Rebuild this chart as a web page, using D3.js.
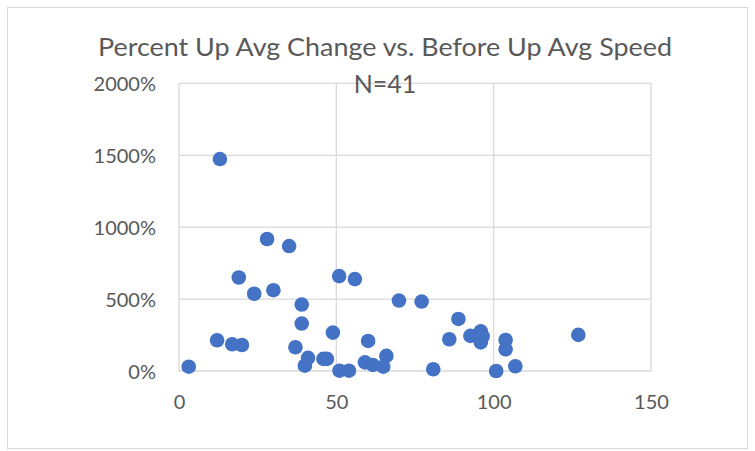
<!DOCTYPE html>
<html>
<head>
<meta charset="utf-8">
<script src="https://cdn.jsdelivr.net/npm/d3@7"></script>
<style>
  body { margin: 0; background: #fff; }
  text { font-family: Lato, "Open Sans", sans-serif; fill: #595959; }
</style>
</head>
<body>
<div id="chart"></div>
<script>
// Chart data
//=====================================================================
var beforeSpeed = [13.0, 28.0, 35.0, 19.0, 23.9, 30.0, 39.0, 39.0, 48.9, 50.9,
    55.9, 12.1, 16.9, 20.0, 3.1, 37.0, 41.0, 40.0, 45.9, 47.0,
    51.0, 54.0, 69.9, 77.1, 88.8, 60.1, 85.9, 92.6, 95.9, 95.9,
    59.1, 61.6, 65.9, 64.9, 80.8, 100.8, 103.8, 103.8, 106.9, 126.9, 96.5];
var percentChange = [1474, 918, 869, 650, 537, 562, 462, 330, 267, 660,
    639, 214, 186, 181, 30, 165, 91, 37, 84, 84,
    2, 2, 490, 483, 362, 209, 221, 244, 276, 199,
    60, 42, 105, 30, 12, 0, 216, 151, 33, 251, 240];
var xTicks = [0, 50, 100, 150];
var yTicks = [0, 500, 1000, 1500, 2000];
var title = "Percent Up Avg Change vs. Before Up Avg Speed";
var subtitle = "N=41";

var points = beforeSpeed.map(function (d, i) {
    return { x: d, y: percentChange[i] };
});

// Set up chart size
//=====================================================================
var svgWidth = 755;
var svgHeight = 451;

var margin = { top: 83.4, right: 104, bottom: 80, left: 179 };
var width = 651 - margin.left;
var height = 371 - margin.top;

var svg = d3.select("#chart")
    .append("svg")
    .attr("width", svgWidth)
    .attr("height", svgHeight);

// chart frame
svg.append("rect")
    .attr("x", 7.5)
    .attr("y", 7.5)
    .attr("width", 740)
    .attr("height", 441)
    .attr("fill", "#fff")
    .attr("stroke", "#d9d9d9")
    .attr("stroke-width", 1);

var chartGroup = svg.append("g")
    .attr("transform", `translate(${margin.left}, ${margin.top})`);

// Scales
// ==============================
var xScale = d3.scaleLinear().domain([0, 150]).range([0, width]);
var yScale = d3.scaleLinear().domain([0, 2000]).range([height, 0]);

// Gridlines
// ==============================
chartGroup.append("g")
    .selectAll("line")
    .data(yTicks)
    .enter()
    .append("line")
    .attr("x1", 0)
    .attr("x2", width)
    .attr("y1", d => yScale(d))
    .attr("y2", d => yScale(d))
    .attr("stroke", "#d9d9d9")
    .attr("stroke-width", 1.3);

chartGroup.append("g")
    .selectAll("line")
    .data(xTicks)
    .enter()
    .append("line")
    .attr("x1", d => xScale(d))
    .attr("x2", d => xScale(d))
    .attr("y1", 0)
    .attr("y2", height)
    .attr("stroke", "#d9d9d9")
    .attr("stroke-width", 1.3);

// Axes (labels only, lines drawn as grid)
// ==============================
var bottomAxis = d3.axisBottom(xScale).tickValues(xTicks).tickSize(0).tickPadding(24);
var leftAxis = d3.axisLeft(yScale).tickValues(yTicks).tickSize(0).tickPadding(23)
    .tickFormat(d => d + "%");

var xAxisG = chartGroup.append("g")
    .attr("transform", `translate(0, ${height})`)
    .call(bottomAxis);
var yAxisG = chartGroup.append("g")
    .call(leftAxis);

[xAxisG, yAxisG].forEach(function (g) {
    g.select(".domain").remove();
    g.selectAll("text")
        .attr("fill", "#595959")
        .style("font-family", "Lato, 'Open Sans', sans-serif")
        .style("font-size", "20px");
});
yAxisG.selectAll("text").attr("dy", "0.35em");

// Points
// ==============================
chartGroup.selectAll("circle")
    .data(points)
    .enter()
    .append("circle")
    .attr("cx", d => xScale(d.x))
    .attr("cy", d => yScale(d.y))
    .attr("r", 7.3)
    .attr("fill", "#4472c4");

// Title
// ==============================
svg.append("text")
    .attr("x", 385)
    .attr("y", 56)
    .attr("text-anchor", "middle")
    .attr("textLength", 574)
    .attr("lengthAdjust", "spacingAndGlyphs")
    .style("font-size", "25px")
    .text(title);

svg.append("text")
    .attr("x", 385)
    .attr("y", 93)
    .attr("text-anchor", "middle")
    .style("font-size", "25px")
    .text(subtitle);
</script>
</body>
</html>
